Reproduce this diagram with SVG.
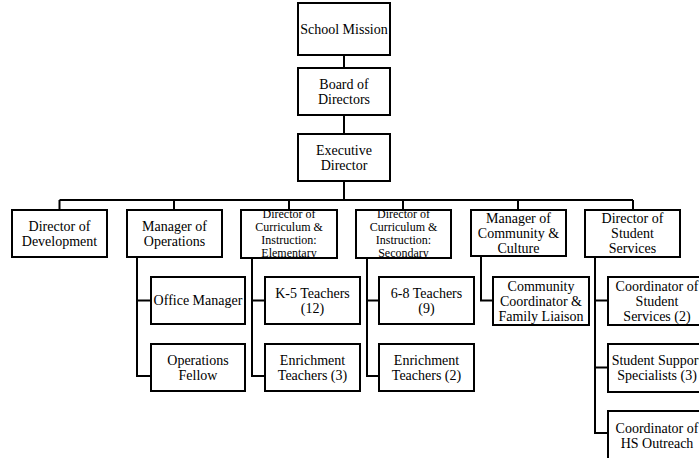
<svg xmlns="http://www.w3.org/2000/svg" width="699" height="458" viewBox="0 0 699 458">
<defs>
<style>
.b{fill:#fff;stroke:#000;stroke-width:2}
.t{font-family:"Liberation Serif","Times New Roman",serif;font-size:14px;fill:#000;text-anchor:middle}
.s{font-size:12px}
.c{fill:none;stroke:#000;stroke-width:2}
</style>
<clipPath id="clipElem"><rect x="242" y="211" width="94" height="46"/></clipPath>
<clipPath id="clipSec"><rect x="357" y="211" width="93" height="46"/></clipPath>
</defs>
<rect width="699" height="458" fill="#fff"/>
<g id="connectors">
<path class="c" d="M344 55V68M344 115V134M344 181V200M59.5 200H633M59.5 200V210M174 200V210M289 200V210M403 200V210M518 200V210M633 200V210"/>
<path class="c" d="M137 257V376M136 300.5H151M136 376H151"/>
<path class="c" d="M252 258V376M251 300.5H265M251 376H265"/>
<path class="c" d="M367 258V376M366 300.5H379M366 376H379"/>
<path class="c" d="M481 256V300.5H493"/>
<path class="c" d="M595 257V433M594 300.5H608M594 367.5H608M594 433H608"/>
</g>
<g id="mission"><rect class="b" x="298" y="3" width="92" height="52"/><text class="t" x="344" y="34">School Mission</text></g>
<g id="board"><rect class="b" x="298" y="68" width="92" height="47"/><text class="t" x="344" y="89">Board of</text><text class="t" x="344" y="104">Directors</text></g>
<g id="exec"><rect class="b" x="298" y="134" width="92" height="47"/><text class="t" x="344" y="155">Executive</text><text class="t" x="344" y="170">Director</text></g>
<g id="dev"><rect class="b" x="12" y="210" width="95" height="47"/><text class="t" x="59.5" y="231">Director of</text><text class="t" x="59.5" y="246">Development</text></g>
<g id="ops"><rect class="b" x="127" y="210" width="95" height="47"/><text class="t" x="174.5" y="231">Manager of</text><text class="t" x="174.5" y="246">Operations</text></g>
<g id="elem"><rect class="b" x="241" y="210" width="96" height="48"/><g clip-path="url(#clipElem)"><text class="t s" x="289" y="218">Director of</text><text class="t s" x="289" y="231">Curriculum &amp;</text><text class="t s" x="289" y="244">Instruction:</text><text class="t s" x="289" y="257">Elementary</text></g></g>
<g id="sec"><rect class="b" x="356" y="210" width="95" height="48"/><g clip-path="url(#clipSec)"><text class="t s" x="403.5" y="218">Director of</text><text class="t s" x="403.5" y="231">Curriculum &amp;</text><text class="t s" x="403.5" y="244">Instruction:</text><text class="t s" x="403.5" y="257">Secondary</text></g></g>
<g id="community"><rect class="b" x="471" y="210" width="95" height="46"/><text class="t" x="518.5" y="223">Manager of</text><text class="t" x="518.5" y="238">Community &amp;</text><text class="t" x="518.5" y="253">Culture</text></g>
<g id="student"><rect class="b" x="585" y="210" width="95" height="47"/><text class="t" x="632.5" y="223">Director of</text><text class="t" x="632.5" y="238">Student</text><text class="t" x="632.5" y="253">Services</text></g>
<g id="office"><rect class="b" x="151" y="277" width="94" height="47"/><text class="t" x="198" y="305">Office Manager</text></g>
<g id="opsfellow"><rect class="b" x="151" y="344" width="94" height="47"/><text class="t" x="198" y="365">Operations</text><text class="t" x="198" y="380">Fellow</text></g>
<g id="k5"><rect class="b" x="265" y="277" width="95" height="47"/><text class="t" x="312.5" y="298">K-5 Teachers</text><text class="t" x="312.5" y="313">(12)</text></g>
<g id="enrich3"><rect class="b" x="265" y="344" width="95" height="47"/><text class="t" x="312.5" y="365">Enrichment</text><text class="t" x="312.5" y="380">Teachers (3)</text></g>
<g id="t68"><rect class="b" x="379" y="277" width="95" height="47"/><text class="t" x="426.5" y="298">6-8 Teachers</text><text class="t" x="426.5" y="313">(9)</text></g>
<g id="enrich2"><rect class="b" x="379" y="344" width="95" height="47"/><text class="t" x="426.5" y="365">Enrichment</text><text class="t" x="426.5" y="380">Teachers (2)</text></g>
<g id="ccfl"><rect class="b" x="493" y="277" width="96" height="48"/><text class="t" x="541" y="291">Community</text><text class="t" x="541" y="306">Coordinator &amp;</text><text class="t" x="541" y="321">Family Liaison</text></g>
<g id="coordss"><rect class="b" x="608" y="277" width="98" height="48"/><text class="t" x="657" y="291">Coordinator of</text><text class="t" x="657" y="306">Student</text><text class="t" x="657" y="321">Services (2)</text></g>
<g id="sss"><rect class="b" x="608" y="344" width="98" height="48"/><text class="t" x="657" y="365">Student Support</text><text class="t" x="657" y="380">Specialists (3)</text></g>
<g id="hs"><rect class="b" x="608" y="411" width="98" height="52"/><text class="t" x="657" y="433">Coordinator of</text><text class="t" x="657" y="448">HS Outreach</text></g>
</svg>
